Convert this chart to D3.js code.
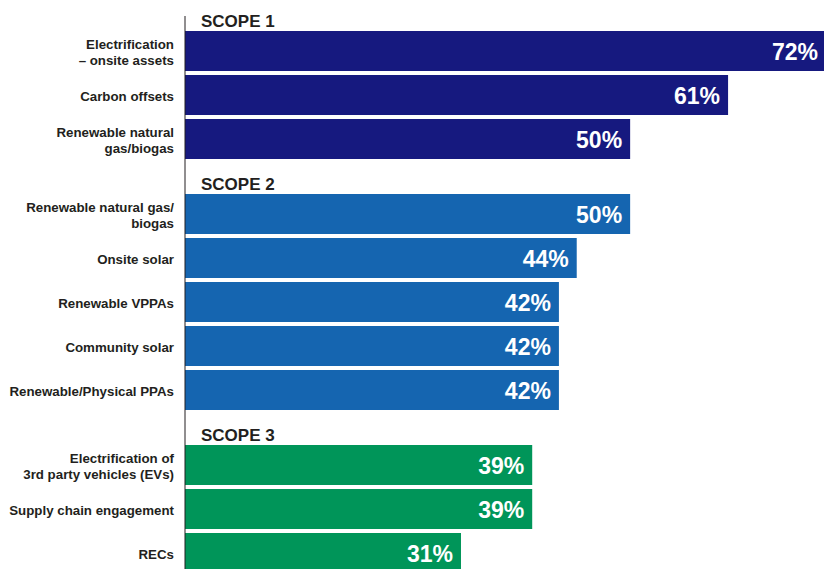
<!DOCTYPE html>
<html>
<head>
<meta charset="utf-8">
<script src="https://cdn.jsdelivr.net/npm/d3@7"></script>
<style>
  html, body { margin: 0; padding: 0; background: #ffffff; }
  svg { display: block; }
</style>
</head>
<body>
<script>
// Scope groups, their bar labels (line breaks with \n) and adoption percentages
const groups = ["SCOPE 1", "SCOPE 2", "SCOPE 3"];
const scope1Labels = ["Electrification\n– onsite assets", "Carbon offsets", "Renewable natural\ngas/biogas"];
const scope1Values = [72, 61, 50];
const scope2Labels = ["Renewable natural gas/\nbiogas", "Onsite solar", "Renewable VPPAs", "Community solar", "Renewable/Physical PPAs"];
const scope2Values = [50, 44, 42, 42, 42];
const scope3Labels = ["Electrification of\n3rd party vehicles (EVs)", "Supply chain engagement", "RECs"];
const scope3Values = [39, 39, 31];
const groupColors = ["#16197f", "#1565b0", "#009559"];

const W = 824, H = 569;
const axisX = 185;
const headerH = 31, step = 44, barH = 40;

const svg = d3.select("body").append("svg")
  .attr("width", W).attr("height", H);

const x = d3.scaleLinear().domain([0, 72]).range([axisX, 826]);

const groupData = [
  { name: groups[0], labels: scope1Labels, values: scope1Values, color: groupColors[0] },
  { name: groups[1], labels: scope2Labels, values: scope2Values, color: groupColors[1] },
  { name: groups[2], labels: scope3Labels, values: scope3Values, color: groupColors[2] }
];

let groupTop = 0;
groupData.forEach(g => {
  const n = g.labels.length;
  const y = d3.scaleBand()
    .domain(d3.range(n))
    .range([groupTop + headerH, groupTop + headerH + n * step - (step - barH)])
    .paddingInner((step - barH) / step)
    .paddingOuter(0);

  const gEl = svg.append("g");

  gEl.append("text")
    .attr("x", 201).attr("y", groupTop + 27)
    .attr("font-family", "Liberation Sans, Arial, sans-serif")
    .attr("font-weight", "bold").attr("font-size", 17)
    .attr("fill", "#231f20")
    .text(g.name);

  const rows = gEl.selectAll("g.row")
    .data(g.values.map((v, i) => ({ v, label: g.labels[i], i })))
    .join("g").attr("class", "row");

  rows.append("rect")
    .attr("x", x(0))
    .attr("y", d => y(d.i))
    .attr("width", d => x(d.v) - x(0))
    .attr("height", y.bandwidth())
    .attr("fill", g.color);

  rows.append("text")
    .attr("x", d => x(d.v) - 8)
    .attr("y", d => y(d.i) + y.bandwidth() / 2)
    .attr("dy", "0.38em")
    .attr("text-anchor", "end")
    .attr("font-family", "Liberation Sans, Arial, sans-serif")
    .attr("font-weight", "bold").attr("font-size", 23)
    .attr("fill", "#ffffff")
    .text(d => d.v + "%");

  rows.each(function(d) {
    const lines = d.label.split("\n");
    const cy = y(d.i) + y.bandwidth() / 2;
    const t = d3.select(this).append("text")
      .attr("text-anchor", "end")
      .attr("font-family", "Liberation Sans, Arial, sans-serif")
      .attr("font-weight", "bold").attr("font-size", 13.3)
      .attr("fill", "#231f20");
    lines.forEach((ln, k) => {
      t.append("tspan")
        .attr("x", 174)
        .attr("y", cy + 1 + (k - (lines.length - 1) / 2) * 16)
        .attr("dy", "0.38em")
        .text(ln);
    });
  });

  groupTop += headerH + n * step;
});

// Vertical baseline at zero
svg.append("line")
  .attr("x1", axisX).attr("x2", axisX)
  .attr("y1", 16).attr("y2", H)
  .attr("stroke", "#231f20").attr("stroke-width", 1);
</script>
</body>
</html>
